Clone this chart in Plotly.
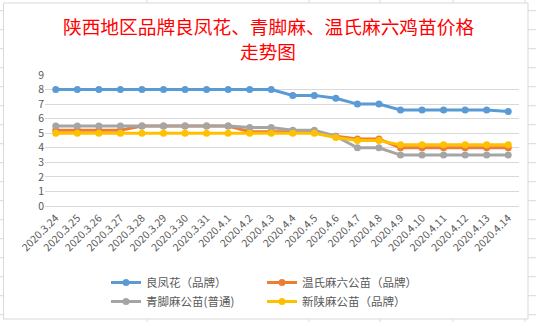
import plotly.graph_objects as go

dates = ["2020.3.24", "2020.3.25", "2020.3.26", "2020.3.27", "2020.3.28", "2020.3.29",
         "2020.3.30", "2020.3.31", "2020.4.1", "2020.4.2", "2020.4.3", "2020.4.4",
         "2020.4.5", "2020.4.6", "2020.4.7", "2020.4.8", "2020.4.9", "2020.4.10",
         "2020.4.11", "2020.4.12", "2020.4.13", "2020.4.14"]

liangfenghua = [8, 8, 8, 8, 8, 8, 8, 8, 8, 8, 8, 7.6, 7.6, 7.4, 7.0, 7.0, 6.6, 6.6, 6.6, 6.6, 6.6, 6.5]
wenshi = [5.2, 5.2, 5.2, 5.2, 5.5, 5.5, 5.5, 5.5, 5.5, 5.1, 5.1, 5.1, 5.1, 4.8, 4.6, 4.6, 4.0, 4.0, 4.0, 4.0, 4.0, 4.0]
qingjiaoma = [5.5, 5.5, 5.5, 5.5, 5.5, 5.5, 5.5, 5.5, 5.5, 5.4, 5.4, 5.2, 5.2, 4.8, 4.0, 4.0, 3.5, 3.5, 3.5, 3.5, 3.5, 3.5]
xinshanma = [5.0, 5.0, 5.0, 5.0, 5.0, 5.0, 5.0, 5.0, 5.0, 5.0, 5.0, 5.0, 5.0, 4.7, 4.5, 4.5, 4.2, 4.2, 4.2, 4.2, 4.2, 4.2]

series_names = ["良凤花（品牌）", "温氏麻六公苗（品牌）", "青脚麻公苗(普通)", "新陕麻公苗（品牌）"]
series_values = [liangfenghua, wenshi, qingjiaoma, xinshanma]
series_colors = ["#5B9BD5", "#ED7D31", "#A5A5A5", "#FFC000"]
series_legend = ["legend", "legend2", "legend", "legend2"]

title_lines = ["陕西地区品牌良凤花、青脚麻、温氏麻六鸡苗价格", "走势图"]

W, H = 536, 322
ML, MR, MT, MB = 45, 17, 75, 116
PW, PH = W - ML - MR, H - MT - MB


def px(x):
    return (x - ML) / PW


def py(y):
    return (H - MB - y) / PH


fig = go.Figure()
for name, vals, col, lg in zip(series_names, series_values, series_colors, series_legend):
    fig.add_trace(go.Scatter(
        x=dates, y=vals, name=name, mode="lines+markers",
        line=dict(color=col, width=3),
        marker=dict(color=col, size=7),
        legend=lg,
    ))

grid = "#D9D9D9"
shapes = []
# chart border
shapes.append(dict(type="rect", xref="paper", yref="paper",
                   x0=px(3.5), x1=px(528), y0=py(319), y1=py(3),
                   line=dict(color=grid, width=1), layer="below"))
# spreadsheet cell lines peeking out around the chart
for k in range(17):
    yy = 10.7 + 19 * k
    shapes.append(dict(type="line", xref="paper", yref="paper",
                       x0=px(0), x1=px(3.5), y0=py(yy), y1=py(yy),
                       line=dict(color=grid, width=1)))
    shapes.append(dict(type="line", xref="paper", yref="paper",
                       x0=px(528), x1=px(536), y0=py(yy), y1=py(yy),
                       line=dict(color=grid, width=1)))
for xx in [147, 309, 380, 453, 525]:
    shapes.append(dict(type="line", xref="paper", yref="paper",
                       x0=px(xx), x1=px(xx), y0=py(0), y1=py(3),
                       line=dict(color=grid, width=1)))
    shapes.append(dict(type="line", xref="paper", yref="paper",
                       x0=px(xx), x1=px(xx), y0=py(319), y1=py(322),
                       line=dict(color=grid, width=1)))

annotations = []
for txt, yc in zip(title_lines, [26, 50]):
    annotations.append(dict(
        text=txt, xref="paper", yref="paper", x=px(268), y=py(yc),
        xanchor="center", yanchor="middle", showarrow=False,
        font=dict(family="Noto Sans CJK SC", size=18.7, color="#FF0000"),
    ))

legend_common = dict(
    orientation="v", xanchor="left", yanchor="top", y=py(268),
    font=dict(size=11.5, color="#595959"),
    traceorder="normal", tracegroupgap=0,
    bgcolor="rgba(0,0,0,0)",
)

fig.update_layout(
    width=W, height=H,
    margin=dict(l=ML, r=MR, t=MT, b=MB, autoexpand=False),
    paper_bgcolor="white", plot_bgcolor="white",
    font=dict(family="Noto Sans CJK SC, Noto Sans, sans-serif", color="#595959", size=10),
    xaxis=dict(
        type="category", range=[-0.5, 21.5], automargin=False,
        showgrid=False, showline=False, zeroline=False,
        tickangle=-45, ticks="", ticklabelstandoff=3,
        tickfont=dict(size=10.5, color="#595959"),
    ),
    yaxis=dict(
        range=[0, 9], dtick=1, tick0=0, automargin=False,
        showgrid=True, gridcolor=grid, gridwidth=1,
        zeroline=True, zerolinecolor=grid, zerolinewidth=1,
        showline=False, ticks="", tickfont=dict(size=10.5, color="#595959"),
    ),
    legend=dict(x=px(106), **legend_common),
    legend2=dict(x=px(262), **legend_common),
    shapes=shapes,
    annotations=annotations,
    showlegend=True,
)

fig.write_html("out.html")
